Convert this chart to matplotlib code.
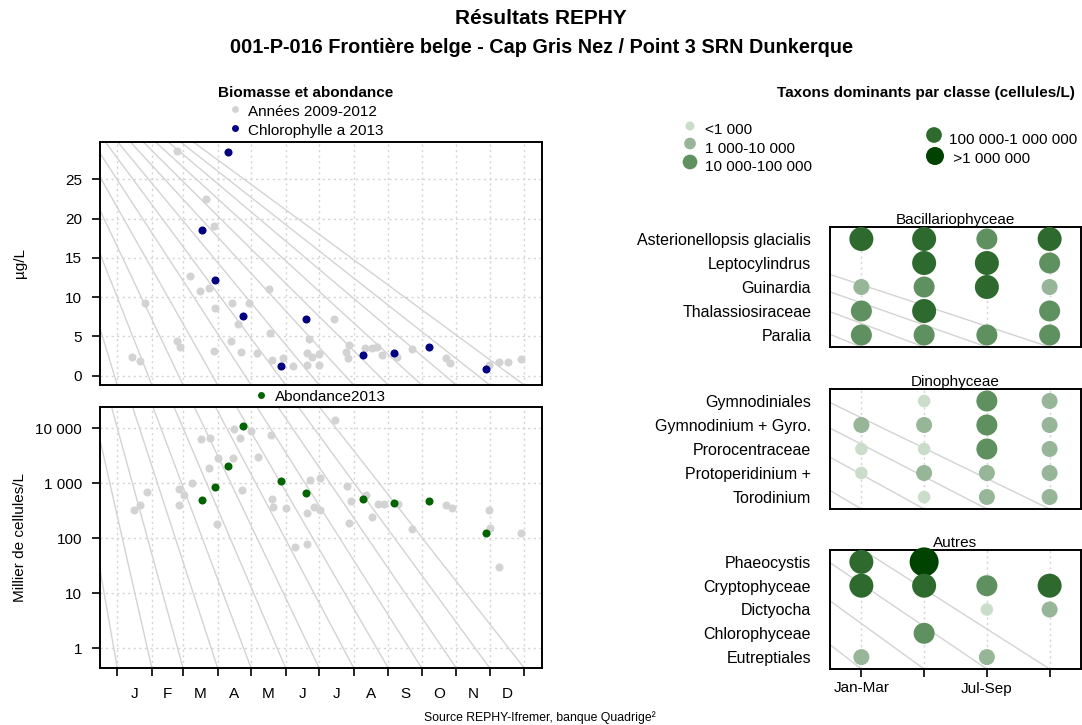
import matplotlib
matplotlib.use('Agg')
import matplotlib.pyplot as plt
from matplotlib.ticker import NullLocator

plt.rcParams['font.family'] = ['Liberation Sans', 'DejaVu Sans']
plt.rcParams['font.size'] = 11

# ---------------- data ----------------
month_labels = ['J', 'F', 'M', 'A', 'M', 'J', 'J', 'A', 'S', 'O', 'N', 'D']
month_starts = [1, 32, 60, 91, 121, 152, 182, 213, 244, 274, 305, 335, 366]

# Années 2009-2012 : chlorophylle a (µg/L)
hist_chl_days = [55, 81, 88, 66, 75, 83, 137, 26, 104, 119,
                 89, 109, 195, 138, 173, 103, 55, 57, 88, 112,
                 126, 14, 21, 140, 150, 159, 171, 176, 182, 171,
                 182, 209, 206, 208, 223, 229, 234, 238, 252, 265,
                 296, 299, 334, 343, 351, 363]
hist_chl = [28.6, 22.5, 19.0, 12.7, 10.8, 11.2, 11.0, 9.2, 9.2, 9.2,
            8.6, 6.6, 7.2, 5.4, 4.7, 4.45, 4.4, 3.6, 3.1, 3.0,
            2.85, 2.4, 1.87, 2.0, 2.3, 1.23, 2.85, 2.4, 2.76, 1.36,
            1.36, 3.9, 2.97, 2.2, 3.56, 3.48, 3.7, 2.6, 2.4, 3.4,
            2.3, 1.58, 1.36, 1.7, 1.7, 2.1]

# Années 2009-2012 : abondance (milliers de cellules/L)
hist_ab_days = [196, 106, 121, 111, 76, 84, 139, 127, 91, 105,
                83, 68, 56, 113, 61, 28, 21, 16, 56, 140,
                141, 152, 174, 183, 207, 211, 224, 171, 177, 183,
                90, 160, 171, 209, 229, 235, 240, 253, 265, 296,
                301, 334, 335, 343, 363]
hist_ab = [14150, 9550, 8920, 6740, 6380, 6740, 7450, 3030, 2840, 2870,
           1900, 1010, 780, 746, 620, 705, 400, 327, 400, 525,
           366, 351, 1150, 1235, 890, 477, 612, 285, 366, 327,
           182, 70, 78, 192, 248, 420, 420, 425, 149, 400,
           351, 330, 156, 30, 126]

# 2013
dates_2013 = [77, 89, 100, 114, 148, 170, 221, 249, 281, 332]
chl_2013 = [18.6, 12.2, 28.5, 7.6, 1.2, 7.2, 2.6, 2.9, 3.6, 0.9]
ab_2013 = [497, 857, 2090, 11150, 1115, 667, 525, 444, 471, 126]

chl_ticks = [0, 5, 10, 15, 20, 25]
ab_ticks = [1, 10, 100, 1000, 10000]
ab_tick_labels = ['1', '10', '100', '1 000', '10 000']

# Taxons dominants par trimestre (classe 0 = absent)
quarter_labels = ['Jan-Mar', '', 'Jul-Sep', '']
class_labels = ['<1 000', '1 000-10 000', '10 000-100 000',
                '100 000-1 000 000', ' >1 000 000']

bac_taxa = ['Asterionellopsis glacialis', 'Leptocylindrus', 'Guinardia',
            'Thalassiosiraceae', 'Paralia']
bac_cls = [[4, 4, 3, 4], [0, 4, 4, 3], [2, 3, 4, 2], [3, 4, 0, 3], [3, 3, 3, 3]]
dino_taxa = ['Gymnodiniales', 'Gymnodinium + Gyro.', 'Prorocentraceae',
             'Protoperidinium +', 'Torodinium']
dino_cls = [[0, 1, 3, 2], [2, 2, 3, 2], [1, 1, 3, 2], [1, 2, 2, 2], [0, 1, 2, 2]]
autres_taxa = ['Phaeocystis', 'Cryptophyceae', 'Dictyocha', 'Chlorophyceae',
               'Eutreptiales']
autres_cls = [[4, 5, 0, 0], [4, 4, 3, 4], [0, 0, 1, 2], [0, 3, 0, 0], [2, 0, 2, 0]]

# ---------------- style ----------------
class_colors = {1: '#CADCCA', 2: '#97B697', 3: '#5F905F', 4: '#2E6A2E', 5: '#004300'}
class_diam = {1: 12.5, 2: 16, 3: 21, 4: 24, 5: 29}
legend_diam = {1: 9, 2: 11.7, 3: 14.7, 4: 15.7, 5: 18}
GRID = '#D3D3D3'
FAN = '#D3D3D3'
DOT = (0, (1.5, 2.5))

W, H = 1082, 725
fig = plt.figure(figsize=(W / 100, H / 100), dpi=100)


def add_px_axes(l, t, r, b):
    return fig.add_axes([l / W, 1 - b / H, (r - l) / W, (b - t) / H])


def style_box(ax):
    for s in ax.spines.values():
        s.set_linewidth(1.4)
        s.set_color('black')


def fan_lines(ax, xs):
    xlim, ylim = ax.get_xlim(), ax.get_ylim()
    P = ax.transData.inverted().transform(fig.transFigure.transform((0, 1)))
    for x in xs:
        ax.plot([P[0], x], [P[1], ylim[0]], color=FAN, lw=1.0, zorder=1)
    ax.set_xlim(xlim)
    ax.set_ylim(ylim)


def s_of(d):
    return (0.72 * d) ** 2


XLIM = (-14.5, 381.9)

# ---------------- chlorophylle ----------------
ax1 = add_px_axes(100, 142, 542, 385)
ax1.set_xlim(XLIM)
ax1.set_ylim(-1.18, 29.75)
for m in month_starts:
    ax1.axvline(m, color=GRID, lw=1, ls=DOT, zorder=0.5)
for v in chl_ticks:
    ax1.axhline(v, color=GRID, lw=1, ls=DOT, zorder=0.5)
fan_lines(ax1, month_starts)
ax1.plot(hist_chl_days, hist_chl, 'o', color='#D3D3D3', ms=5.8, mec='none', zorder=2)
ax1.plot(dates_2013, chl_2013, 'o', color='#000080', ms=5.8, mec='none', zorder=3)
ax1.set_xticks([])
ax1.set_yticks(chl_ticks)
ax1.tick_params(axis='y', direction='out', length=6, width=1.2, pad=7, labelsize=11)
style_box(ax1)

# ---------------- abondance ----------------
ax2 = add_px_axes(100, 407, 542, 668)
ax2.set_yscale('log')
ax2.set_xlim(XLIM)
ax2.set_ylim(10 ** -0.358, 10 ** 4.387)
for m in month_starts:
    ax2.axvline(m, color=GRID, lw=1, ls=DOT, zorder=0.5)
for v in ab_ticks:
    ax2.axhline(v, color=GRID, lw=1, ls=DOT, zorder=0.5)
fan_lines(ax2, month_starts)
ax2.plot(hist_ab_days, hist_ab, 'o', color='#D3D3D3', ms=5.8, mec='none', zorder=2)
ax2.plot(dates_2013, ab_2013, 'o', color='#006400', ms=5.8, mec='none', zorder=3)
ax2.set_yticks(ab_ticks)
ax2.set_yticklabels(ab_tick_labels)
ax2.yaxis.set_minor_locator(NullLocator())
ax2.set_xticks(month_starts)
ax2.set_xticklabels([])
mids = [(a + b) / 2 for a, b in zip(month_starts[:-1], month_starts[1:])]
ax2.set_xticks(mids, minor=True)
ax2.set_xticklabels(month_labels, minor=True)
ax2.tick_params(axis='y', direction='out', length=6, width=1.2, pad=7, labelsize=11)
ax2.tick_params(axis='x', which='major', direction='out', length=6, width=1.2)
ax2.tick_params(axis='x', which='minor', length=0, pad=14, labelsize=11)
style_box(ax2)

# ---------------- taxons dominants ----------------
quarter_pos = [1, 2, 3, 4]
panels = [('Bacillariophyceae', bac_taxa, bac_cls, 227, 347),
          ('Dinophyceae', dino_taxa, dino_cls, 389, 509),
          ('Autres', autres_taxa, autres_cls, 550, 669)]
for i, (title, taxa, cls, t, b) in enumerate(panels):
    ax = add_px_axes(830, t, 1081, b)
    ax.set_xlim(0.5, 4.5)
    ax.set_ylim(0.5, 5.5)
    for q in quarter_pos:
        ax.axvline(q, color=GRID, lw=1, ls=DOT, zorder=0.5)
    fan_lines(ax, quarter_pos)
    xs, ys, ss, cs = [], [], [], []
    for r, row in enumerate(cls):
        for q, c in zip(quarter_pos, row):
            if c:
                xs.append(q)
                ys.append(len(taxa) - r)
                ss.append(s_of(class_diam[c]))
                cs.append(class_colors[c])
    ax.scatter(xs, ys, s=ss, c=cs, edgecolors='none', zorder=3, clip_on=False)
    ax.set_yticks(range(len(taxa), 0, -1))
    ax.set_yticklabels(taxa)
    ax.tick_params(axis='y', length=0, pad=13.5, labelsize=11.5)
    ax.set_title(title, fontsize=11, pad=2)
    if i == len(panels) - 1:
        ax.set_xticks(quarter_pos)
        ax.set_xticklabels(quarter_labels)
        ax.tick_params(axis='x', direction='out', length=6, width=1.2, pad=3, labelsize=11)
    else:
        ax.set_xticks([])
    style_box(ax)

# ---------------- texts & legends ----------------
ov = fig.add_axes([0, 0, 1, 1], zorder=-1)
ov.set_xlim(0, W)
ov.set_ylim(H, 0)
ov.axis('off')

ov.text(541, 18, 'Résultats REPHY', ha='center', va='center', fontsize=15, fontweight='bold')
ov.text(542, 47, '001-P-016 Frontière belge - Cap Gris Nez / Point 3 SRN Dunkerque',
        ha='center', va='center', fontsize=14.3, fontweight='bold')
ov.text(306, 93, 'Biomasse et abondance', ha='center', va='center', fontsize=11, fontweight='bold')
ov.text(926, 93, 'Taxons dominants par classe (cellules/L)', ha='center', va='center',
        fontsize=11, fontweight='bold')

ov.plot([234.5], [109], 'o', color='#D3D3D3', ms=5, mec='none')
ov.text(248, 111.5, 'Années 2009-2012', ha='left', va='center', fontsize=11)
ov.plot([235], [128.3], 'o', color='#000080', ms=5, mec='none')
ov.text(248, 130.5, 'Chlorophylle a 2013', ha='left', va='center', fontsize=11)
ov.plot([261], [395], 'o', color='#006400', ms=5, mec='none')
ov.text(275, 396.5, 'Abondance2013', ha='left', va='center', fontsize=11)

leg_pos = [(690, 126, 705, 129.5), (690, 143.5, 705, 148.5), (690, 162, 705, 166.5),
           (934, 135, 949, 140), (935, 156, 949, 158.5)]
for c, (mx, my, tx, ty) in zip(range(1, 6), leg_pos):
    ov.scatter([mx], [my], s=s_of(legend_diam[c]), color=class_colors[c], edgecolors='none')
    ov.text(tx, ty, class_labels[c - 1], ha='left', va='center', fontsize=11)

ov.text(20, 263, 'µg/L', rotation=90, ha='center', va='center', fontsize=11)
ov.text(20, 538, 'Millier de cellules/L', rotation=90, ha='center', va='center', fontsize=11)
ov.text(540, 718, 'Source REPHY-Ifremer, banque Quadrige²', ha='center', va='center', fontsize=8.8)

fig.savefig('out.png', dpi=100)
